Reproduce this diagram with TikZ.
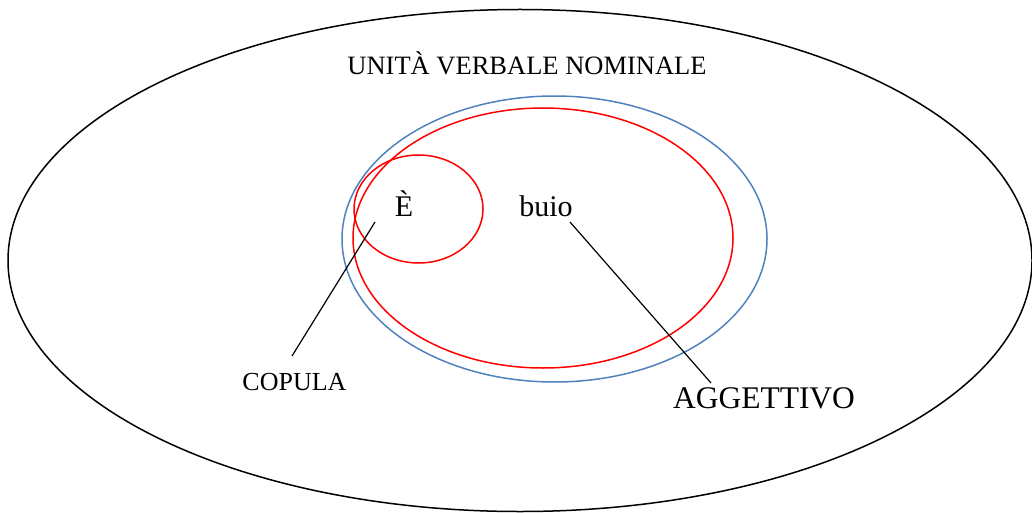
\documentclass[tikz,border=0pt]{standalone}
\usepackage{fontspec}
\setmainfont{Liberation Serif}
\definecolor{ringblue}{RGB}{79,129,189}
\tikzset{
    ring/.style={line width=1.5pt},
    leader/.style={line width=1.2pt, black},
    word/.style={anchor=base, inner sep=0pt}
}
\begin{document}
\begin{tikzpicture}[x=1pt, y=-1pt]
            \def \xouter {520}
            \def \youter {260.5}
            \def \xblue  {554.5}
            \def \yblue  {239}
            \def \xred   {543}
            \def \yred   {238}
            \def \xsmall {418.5}
            \def \ysmall {209}

            \useasboundingbox (0,0) rectangle (1032,513);
% outer area
            \draw [ring, black] (\xouter, \youter) ellipse [x radius=512pt, y radius=251pt];
% blue ring
            \draw [ring, ringblue] (\xblue, \yblue) ellipse [x radius=212.5pt, y radius=143pt];
% red rings
            \draw [ring, red] (\xred, \yred) ellipse [x radius=190pt, y radius=130pt];
            \draw [ring, red] (\xsmall, \ysmall) ellipse [x radius=64.5pt, y radius=54pt];
% labels
            \node [word, font=\fontsize{26.5pt}{30pt}\selectfont] (unita) at (527, 75) {UNITÀ VERBALE NOMINALE};
            \node [word, font=\fontsize{30pt}{34pt}\selectfont] (e) at (404, 216) {È};
            \node [word, font=\fontsize{30pt}{34pt}\selectfont] (buio) at (546, 216) {buio};
            \node [word, font=\fontsize{26pt}{30pt}\selectfont] (copula) at (294.5, 390) {COPULA};
            \node [word, font=\fontsize{31.5pt}{36pt}\selectfont] (aggettivo) at (764, 408) {AGGETTIVO};
% leaders
            \coordinate (copulaTip)  at (375, 222);
            \coordinate (copulaFoot) at (292, 356);
            \coordinate (buioTip)    at (570, 222);
            \coordinate (buioFoot)   at (711, 383);
            \draw [leader] (copulaTip) -- (copulaFoot);
            \draw [leader] (buioTip) -- (buioFoot);
        \end{tikzpicture}
\end{document}
